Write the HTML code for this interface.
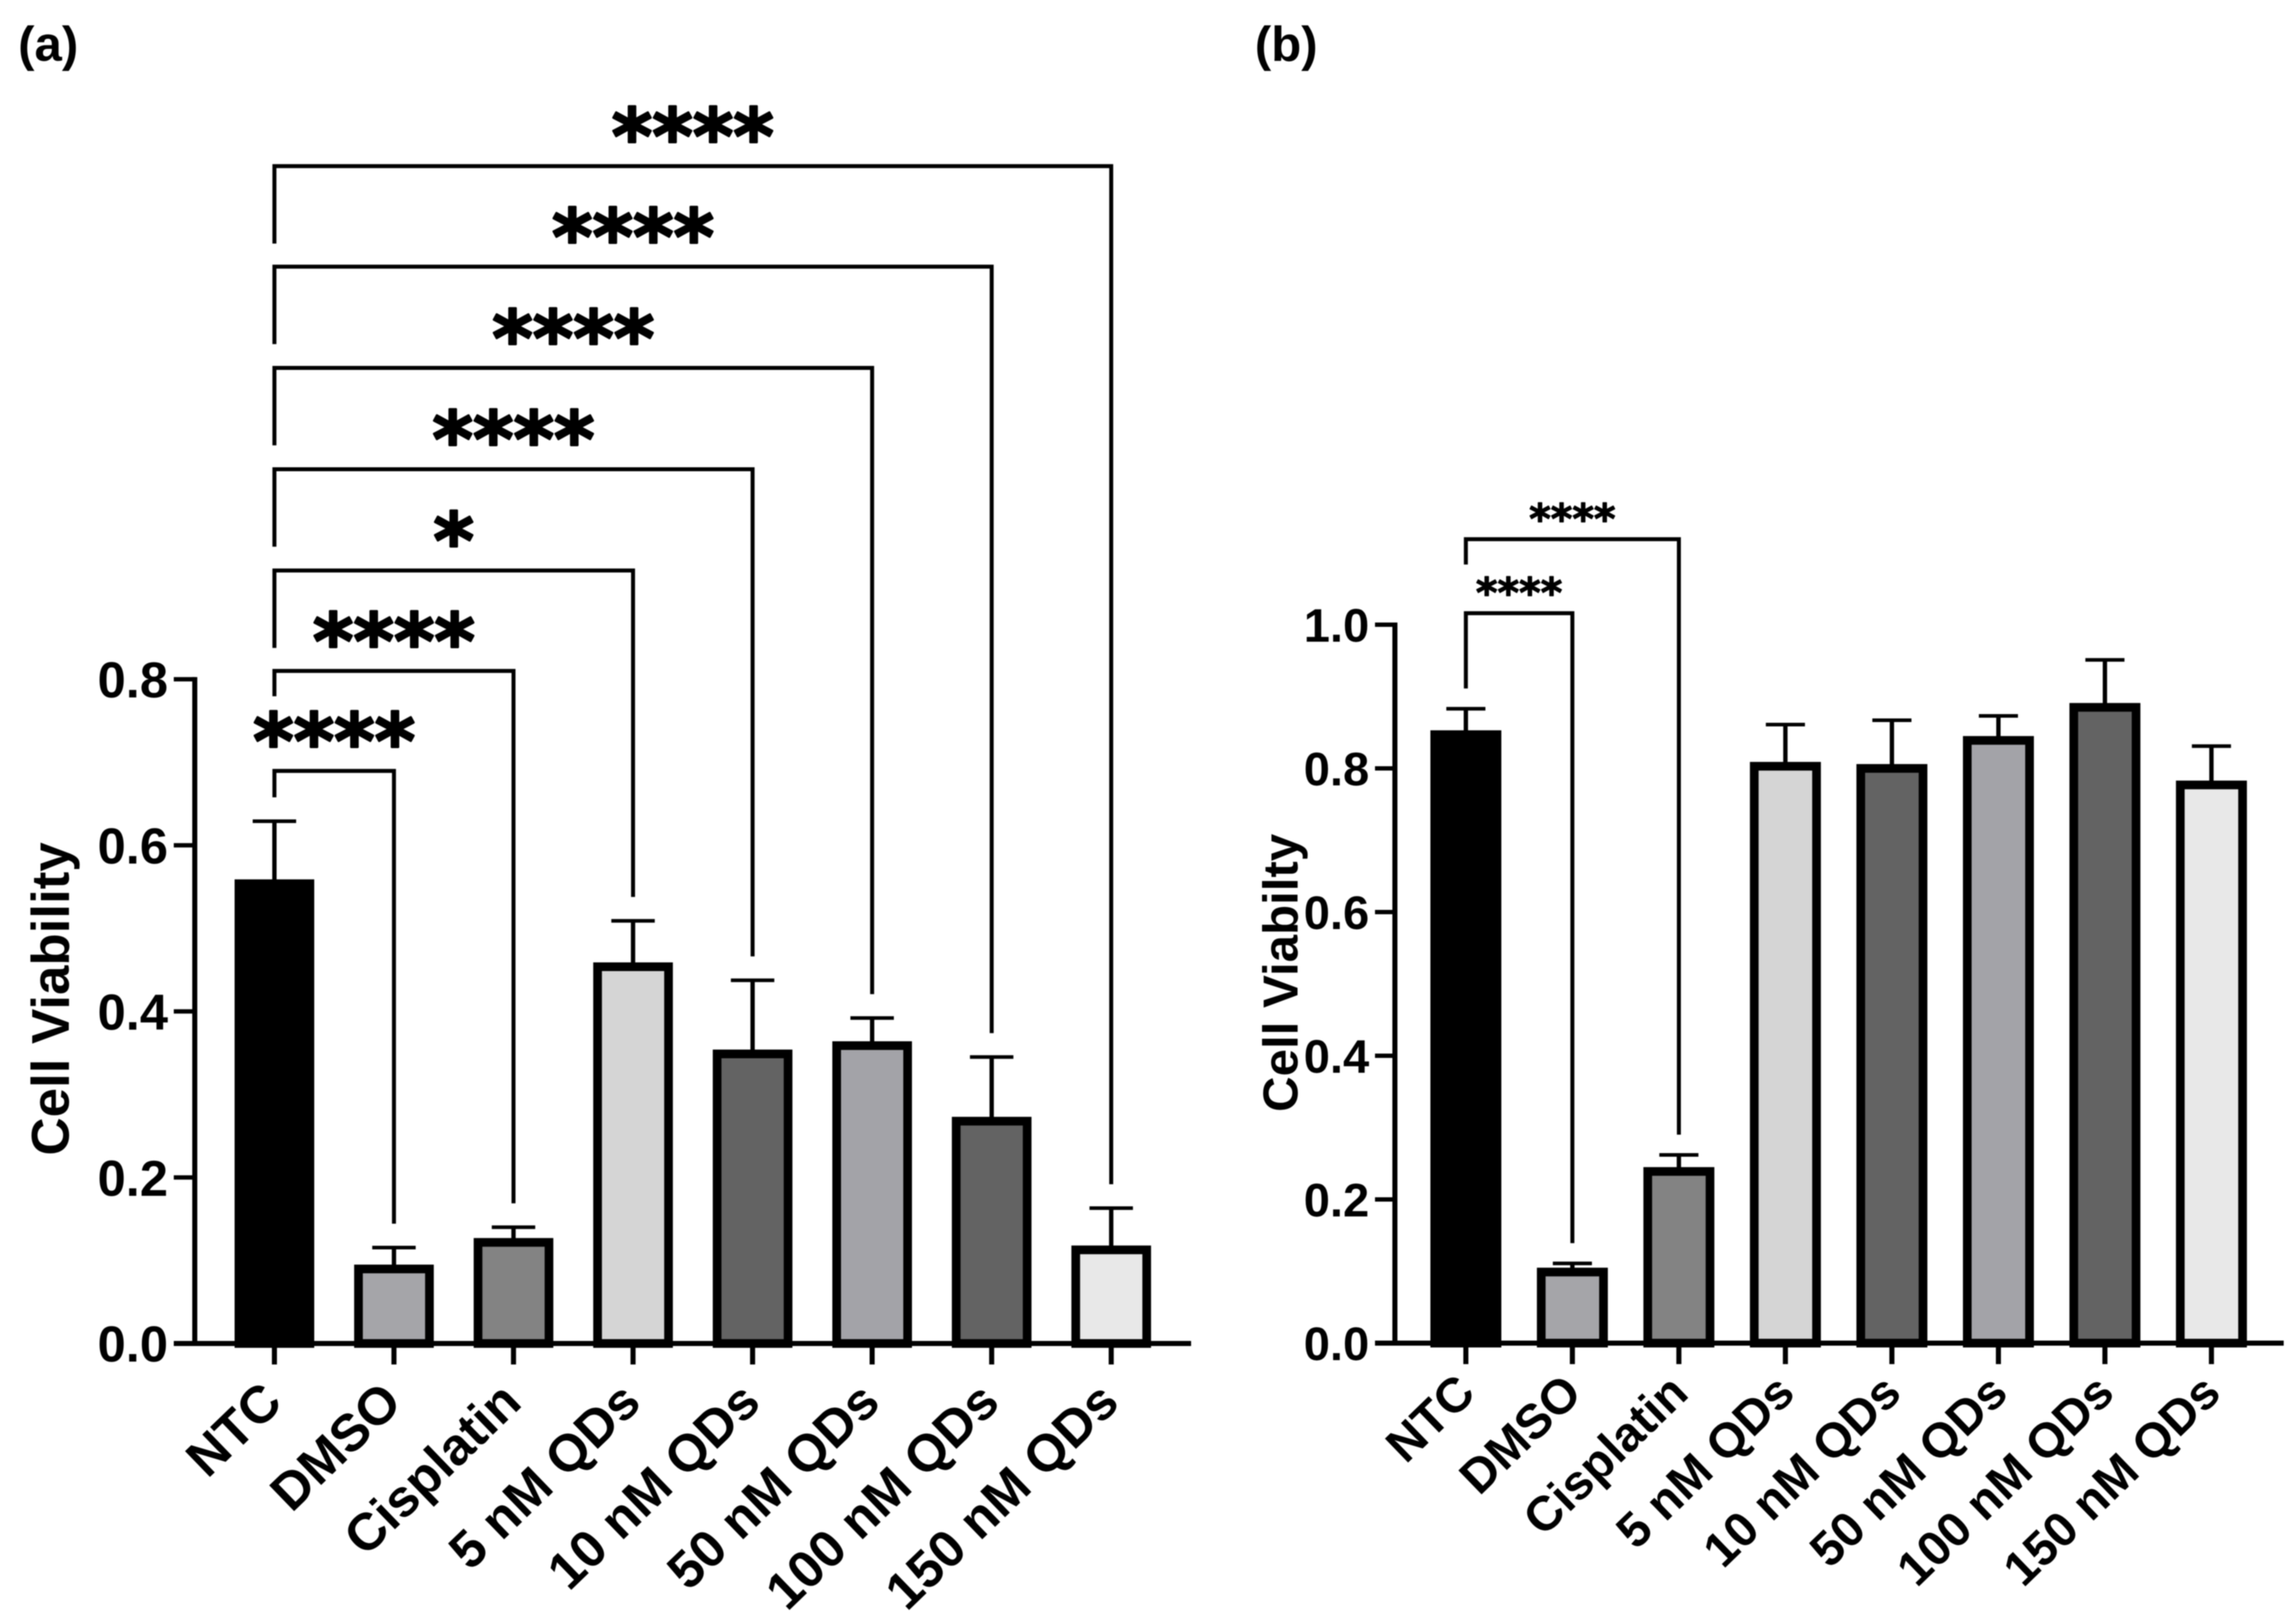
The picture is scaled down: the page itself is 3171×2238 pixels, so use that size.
<!DOCTYPE html>
<html lang="en">
<head>
<meta charset="utf-8">
<title>Cell viability bar charts</title>
<style>
html,body{margin:0;padding:0;background:#fff;}
svg{display:block;filter:blur(0.7px);}
text{font-family:"Liberation Sans",Arial,sans-serif;font-weight:700;fill:#000;}
.stars{font-family:"DejaVu Sans",sans-serif;font-weight:700;stroke:#000;stroke-linejoin:round;}
</style>
</head>
<body>
<svg id="figure" xmlns="http://www.w3.org/2000/svg" width="3171" height="2238" viewBox="0 0 3171 2238">
  <rect x="0" y="0" width="3171" height="2238" fill="#ffffff"/>
  <text x="25" y="84" font-size="68">(a)</text>
  <text x="1733" y="84" font-size="68">(b)</text>
  <g id="panel-a"></g>
  <g id="panel-b"></g>
</svg>
<script>
const categories = ['NTC','DMSO','Cisplatin','5 nM QDs','10 nM QDs','50 nM QDs','100 nM QDs','150 nM QDs'];
const barFills = ['#000000','#a5a5a9','#838383','#d5d5d5','#636363','#a3a3a8','#636363','#e8e8e8'];

const meansA = [0.559,0.095,0.127,0.459,0.354,0.364,0.273,0.118];
const errorsA = [0.070,0.0205,0.013,0.050,0.0835,0.028,0.072,0.045];
const ticksA = [0,0.2,0.4,0.6,0.8];
const sigTargetsA = [1,2,3,4,5,6,7];
const sigLevelsA = [0.6896,0.810,0.931,1.053,1.175,1.297,1.418];
const sigLabelsA = ['****','****','*','****','****','****','****'];

const meansB = [0.853,0.105,0.245,0.809,0.806,0.845,0.891,0.783];
const errorsB = [0.030,0.006,0.017,0.052,0.061,0.028,0.060,0.048];
const ticksB = [0,0.2,0.4,0.6,0.8,1.0];
const sigTargetsB = [1,2];
const sigLevelsB = [1.016,1.119];
const sigLabelsB = ['****','****'];

const NS = 'http://www.w3.org/2000/svg';

function make(parent, tag, props, content) {
  const el = document.createElementNS(NS, tag);
  for (const key in props) el.setAttribute(key, props[key]);
  if (content !== undefined) el.textContent = content;
  parent.appendChild(el);
  return el;
}

function drawPanel(root, cfg) {
  const xScale = i => cfg.x0 + cfg.step * i;
  const yScale = v => cfg.yBase - cfg.unit * v;

  // bars
  cfg.means.forEach((m, i) => {
    const top = yScale(m);
    const half = cfg.barWidth / 2;
    const inset = cfg.border / 2;
    const bar = make(root, 'rect', {
      x: xScale(i) - half + inset, y: top + inset,
      width: cfg.barWidth - cfg.border, height: cfg.yBase - top - inset,
      fill: barFills[i], stroke: '#000', 'stroke-width': cfg.border
    });
    
    

    const capY = yScale(m + cfg.errors[i]);
    const stem = make(root, 'line', {
      x1: xScale(i), x2: xScale(i), y1: top + 2, y2: capY,
      stroke: '#000', 'stroke-width': 6
    });
    
    
    const cap = make(root, 'line', {
      x1: xScale(i) - cfg.capHalf, x2: xScale(i) + cfg.capHalf, y1: capY, y2: capY,
      stroke: '#000', 'stroke-width': 5
    });
    
    
  });

  // y axis
  const yMax = cfg.ticks[cfg.ticks.length - 1];
  const yAxis = make(root, 'line', {
    x1: cfg.axisX, x2: cfg.axisX, y1: yScale(yMax) - 3, y2: cfg.yBase + 3,
    stroke: '#000', 'stroke-width': 7
  });
  
  

  cfg.ticks.forEach(t => {
    const tick = make(root, 'line', {
      x1: cfg.tickX, x2: cfg.axisX, y1: yScale(t), y2: yScale(t),
      stroke: '#000', 'stroke-width': 6
    });
    
    
    const label = make(root, 'text', {
      x: cfg.tickLabelX, y: yScale(t) + cfg.tickFont * 0.36,
      'text-anchor': 'end', 'font-size': cfg.tickFont
    }, t.toFixed(1));
    
    
  });

  // x axis
  const xAxis = make(root, 'line', {
    x1: cfg.tickX, x2: cfg.axisEnd, y1: cfg.yBase, y2: cfg.yBase,
    stroke: '#000', 'stroke-width': 7
  });
  
  

  categories.forEach((c, i) => {
    const tick = make(root, 'line', {
      x1: xScale(i), x2: xScale(i), y1: cfg.yBase, y2: cfg.yBase + 29,
      stroke: '#000', 'stroke-width': 7
    });
    
    
    const ex = xScale(i) + cfg.labelDx;
    const label = make(root, 'text', {
      x: ex, y: cfg.labelY, 'text-anchor': 'end', 'font-size': cfg.labelFont,
      transform: 'rotate(-44 ' + ex + ' ' + cfg.labelY + ')'
    }, c);
    
    
  });

  // axis title
  const title = make(root, 'text', {
    x: 0, y: 0, 'text-anchor': 'middle', 'font-size': cfg.titleFont,
    transform: 'translate(' + cfg.titleX + ' ' + cfg.titleY + ') rotate(-90)'
  }, cfg.title);
  
  

  // significance brackets
  cfg.sigTargets.forEach((target, k) => {
    const lineY = yScale(cfg.sigLevels[k]);
    const xl = xScale(0);
    const xr = xScale(target);
    const capL = yScale(cfg.means[0] + cfg.errors[0]);
    const capR = yScale(cfg.means[target] + cfg.errors[target]);
    const leftEnd = k === 0 ? capL - cfg.sigGap : lineY + cfg.leftStem(k);
    const rightEnd = capR - cfg.sigGap;
    const bracket = make(root, 'path', {
      d: 'M' + xl + ' ' + leftEnd + 'V' + lineY + 'H' + xr + 'V' + rightEnd,
      fill: 'none', stroke: '#000', 'stroke-width': 5.5
    });
    
    
    const stars = make(root, 'text', {
      class: 'stars', x: (xl + xr) / 2, y: lineY + cfg.starOffset,
      'text-anchor': 'middle', 'font-size': cfg.starFont, 'stroke-width': cfg.starStroke
    }, cfg.sigLabels[k]);
    
    
  });
}

drawPanel(document.getElementById('panel-a'), {
  means: meansA, errors: errorsA, ticks: ticksA,
  sigTargets: sigTargetsA, sigLevels: sigLevelsA, sigLabels: sigLabelsA,
  x0: 379, step: 165.1, yBase: 1856, unit: 1147,
  barWidth: 110, border: 12, capHalf: 30,
  axisX: 269, tickX: 240, axisEnd: 1645, tickLabelX: 232, tickFont: 70,
  labelDx: 14, labelY: 1941, labelFont: 72,
  title: 'Cell Viability', titleX: 95, titleY: 1380, titleFont: 73,
  sigGap: 33, leftStem: k => (k === 1 ? 35 : 107), starFont: 107, starOffset: -3, starStroke: 3
});

drawPanel(document.getElementById('panel-b'), {
  means: meansB, errors: errorsB, ticks: ticksB,
  sigTargets: sigTargetsB, sigLevels: sigLevelsB, sigLabels: sigLabelsB,
  x0: 2024.5, step: 147.1, yBase: 1855.5, unit: 992.5,
  barWidth: 98, border: 12, capHalf: 27,
  axisX: 1926.5, tickX: 1899, axisEnd: 3154, tickLabelX: 1891, tickFont: 65,
  labelDx: 16, labelY: 1928, labelFont: 67,
  title: 'Cell Viabilty', titleX: 1792, titleY: 1344, titleFont: 68,
  sigGap: 28, leftStem: k => 35, starFont: 57, starOffset: -8, starStroke: 1.5
});
</script>
</body>
</html>
